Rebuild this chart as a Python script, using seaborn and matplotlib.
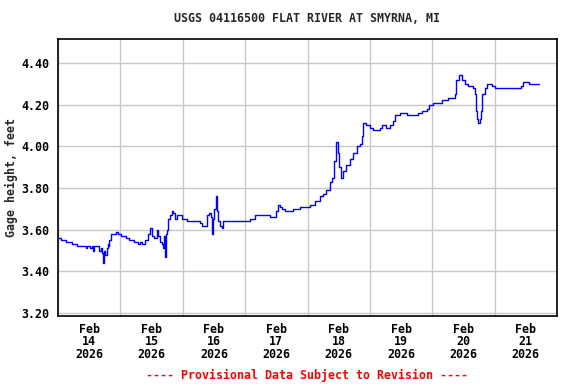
import numpy as np
import pandas as pd
import matplotlib
matplotlib.use("Agg")
import matplotlib.pyplot as plt
import matplotlib.dates as mdates
import seaborn as sns

title = "USGS 04116500 FLAT RIVER AT SMYRNA, MI"
ylabel = "Gage height, feet"
footer = "---- Provisional Data Subject to Revision ----"
start = pd.Timestamp("2026-02-14 00:00")
end = pd.Timestamp("2026-02-22 00:00")

hours = [0.0, 1.2, 3.1, 5.5, 7.4, 10.8, 11.3, 12.3, 13.0, 13.6, 14.0, 15.8, 16.4, 16.8, 17.2,
         17.8, 18.2, 18.7, 19.1, 19.5, 19.7, 20.3, 22.2, 23.0, 24.1, 26.0, 27.3, 29.2, 30.6,
         31.5, 32.4, 33.5, 34.5, 35.3, 36.0, 36.9, 38.0, 38.6, 39.2, 39.9, 40.3, 40.6, 41.2,
         41.5, 42.0, 42.4, 43.1, 43.7, 44.3, 45.0, 45.6, 47.6, 49.5, 54.6, 55.3, 57.4, 58.2,
         58.8, 59.2, 59.7, 60.1, 60.8, 61.3, 61.7, 62.3, 63.0, 63.6, 73.8, 75.8, 81.5, 83.8,
         84.7, 85.4, 86.0, 87.3, 90.5, 93.1, 96.9, 98.8, 100.8, 102.0, 103.3, 104.6, 105.6,
         106.3, 106.9, 107.6, 108.1, 108.7, 109.7, 111.0, 112.3, 113.6, 114.9, 116.1, 116.8,
         117.4, 118.7, 120.0, 121.3, 123.8, 124.5, 126.2, 127.7, 129.0, 129.6, 131.5, 134.1,
         138.6, 139.9, 142.0, 142.8, 144.3, 147.6, 150.1, 152.7, 153.3, 154.2, 155.3, 156.5,
         157.8, 159.7, 160.4, 160.8, 161.3, 161.7, 162.3, 162.7, 163.3, 164.2, 164.9, 166.8,
         168.1, 178.3, 179.0, 181.3, 185.1]
gage_ft = [3.56, 3.55, 3.54, 3.53, 3.52, 3.51, 3.52, 3.51, 3.52, 3.50, 3.52, 3.50, 3.51, 3.49, 3.44,
           3.50, 3.48, 3.51, 3.53, 3.52, 3.55, 3.58, 3.59, 3.58, 3.57, 3.56, 3.55, 3.54, 3.53,
           3.54, 3.53, 3.55, 3.58, 3.61, 3.57, 3.56, 3.60, 3.57, 3.54, 3.53, 3.51, 3.57, 3.47,
           3.58, 3.60, 3.65, 3.67, 3.69, 3.68, 3.65, 3.67, 3.65, 3.64, 3.63, 3.62, 3.67, 3.68,
           3.66, 3.58, 3.65, 3.70, 3.76, 3.69, 3.64, 3.62, 3.61, 3.64, 3.65, 3.67, 3.66, 3.69,
           3.72, 3.71, 3.70, 3.69, 3.70, 3.71, 3.72, 3.74, 3.76, 3.77, 3.79, 3.83, 3.85,
           3.93, 4.02, 3.97, 3.90, 3.85, 3.88, 3.91, 3.94, 3.97, 4.00, 4.01, 4.05,
           4.11, 4.10, 4.09, 4.08, 4.09, 4.10, 4.09, 4.10, 4.12, 4.15, 4.16, 4.15,
           4.16, 4.17, 4.18, 4.20, 4.21, 4.22, 4.23, 4.25, 4.32, 4.34, 4.32, 4.30,
           4.29, 4.28, 4.25, 4.17, 4.13, 4.11, 4.13, 4.17, 4.25, 4.28, 4.30, 4.29,
           4.28, 4.29, 4.31, 4.30, 4.30]

y_ticks = [3.20, 3.40, 3.60, 3.80, 4.00, 4.20, 4.40]

df = pd.DataFrame({"time": start + pd.to_timedelta(hours, unit="h"), "gage": gage_ft})

sns.set_style("white")
plt.rcParams["font.family"] = ["DejaVu Sans Mono", "DejaVu Sans"]
plt.rcParams["font.weight"] = "bold"

fig = plt.figure(figsize=(5.76, 3.84), dpi=100)
ax = fig.add_axes([58 / 576, 1 - 316 / 384, (557 - 58) / 576, (316 - 39) / 384])

sns.lineplot(data=df, x="time", y="gage", ax=ax, color="#0000FF", linewidth=1.0,
             drawstyle="steps-post", zorder=3)

ax.set_xlim(start, end)
ax.set_ylim(3.186, 4.515)

# grid: vertical at midnights, labels at noon
days = pd.date_range(start, end, freq="D")
ax.set_xticks(days, minor=True)
ax.set_xticks(days[:-1] + pd.Timedelta(hours=12))
ax.set_xticklabels([f"{d:%b}\n{d.day}\n{d.year}" for d in days[:-1]],
                   fontsize=8.4, fontweight="bold", linespacing=0.95)
ax.set_yticks(y_ticks)
ax.set_yticklabels([f"{v:.2f}" for v in y_ticks], fontsize=8.4, fontweight="bold")
ax.grid(False)
ax.grid(True, which="minor", axis="x", color="#c8c8c8", linewidth=1.0)
ax.grid(True, which="major", axis="y", color="#c8c8c8", linewidth=1.0)
ax.tick_params(axis="both", which="both", length=0, pad=6, colors="black")
ax.tick_params(axis="x", pad=5)

for s in ax.spines.values():
    s.set_color("black")
    s.set_linewidth(1.2)
    s.set_visible(True)

ax.set_xlabel("")
ax.set_ylabel(ylabel, fontsize=8.4, fontweight="bold")
ax.yaxis.set_label_coords((18 - 58) / 499, 0.5)

cx = (58 + 557) / 2 / 576
fig.text(cx, 1 - 19 / 384, title, ha="center", va="center", fontsize=8.4, fontweight="bold")
fig.text(cx, 1 - 375 / 384, footer, ha="center", va="center", fontsize=8.4,
         fontweight="bold", color="#FF0000")

fig.savefig("out.png", dpi=100)
